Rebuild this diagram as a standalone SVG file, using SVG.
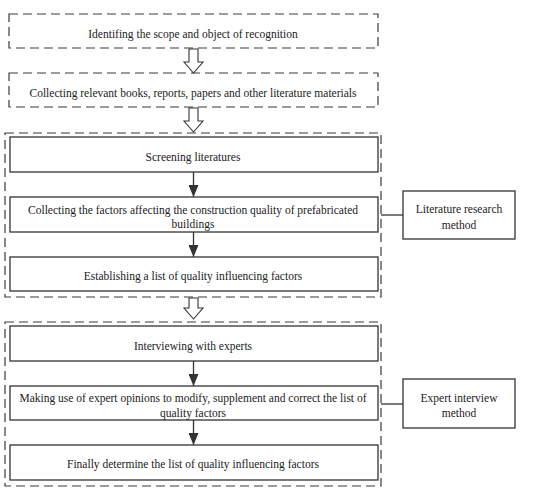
<svg xmlns="http://www.w3.org/2000/svg" width="550" height="491" viewBox="0 0 550 491" font-family="'Liberation Serif','Times New Roman',serif">
<defs>
<style>
.dash{fill:none;stroke:#3a3a3a;stroke-width:1.2;stroke-dasharray:9 5}
.box{fill:#fff;stroke:#333;stroke-width:1.3}
.hollow{fill:#fff;stroke:#333;stroke-width:1.1}
.line{fill:none;stroke:#333;stroke-width:1.3}
text{font-family:"Liberation Serif","Times New Roman",serif;font-size:11.5px;fill:#222;text-anchor:middle}
</style>
<marker id="ah" markerWidth="12" markerHeight="10" refX="12" refY="5" orient="auto" markerUnits="userSpaceOnUse" viewBox="0 0 12 10">
<path d="M0,0 L12,5 L0,10 Z" fill="#333"/>
</marker>
</defs>
<rect width="550" height="491" fill="#fff"/>
<g id="n1"><rect class="dash" x="9" y="14" width="369" height="34"/><text x="193" y="38">Identifing the scope and object of recognition</text></g>
<g id="n2"><rect class="dash" x="9" y="73" width="369" height="34"/><text x="193" y="97">Collecting relevant books, reports, papers and other literature materials</text></g>
<g id="g1"><rect class="dash" x="5" y="133" width="376" height="164"/></g>
<g id="n3"><rect class="box" x="10" y="137" width="368" height="35"/><text x="193" y="161">Screening literatures</text></g>
<g id="n4"><rect class="box" x="10" y="197" width="368" height="35"/><text x="193" y="214">Collecting the factors affecting the construction quality of prefabricated</text><text x="193" y="228">buildings</text></g>
<g id="n5"><rect class="box" x="10" y="257" width="368" height="34"/><text x="193" y="280">Establishing a list of quality  influencing factors</text></g>
<g id="n6"><rect class="box" x="403" y="191" width="112" height="48"/><text x="459" y="213">Literature research</text><text x="459" y="229">method</text></g>
<g id="g2"><rect class="dash" x="5" y="322" width="376" height="164"/></g>
<g id="n7"><rect class="box" x="10" y="326" width="368" height="35"/><text x="193" y="350">Interviewing with experts</text></g>
<g id="n8"><rect class="box" x="10" y="386" width="368" height="34"/><text x="193" y="402">Making use of expert opinions to modify, supplement and correct the list of</text><text x="193" y="417">quality  factors</text></g>
<g id="n9"><rect class="box" x="10" y="445" width="368" height="35"/><text x="193" y="468">Finally determine the list of quality  influencing factors</text></g>
<g id="n10"><rect class="box" x="403" y="379" width="112" height="49"/><text x="459" y="402">Expert interview</text><text x="459" y="417">method</text></g>
<g id="connectors">
<polygon class="hollow" points="189,49 198,49 198,62 203,62 193.5,73 184,62 189,62"/>
<polygon class="hollow" points="189,108 198,108 198,121 203,121 193.5,132 184,121 189,121"/>
<polygon class="hollow" points="189,298 198,298 198,308 203,308 193.5,319 184,308 189,308"/>
<line class="line" x1="193.5" y1="172" x2="193.5" y2="197" marker-end="url(#ah)"/>
<line class="line" x1="193.5" y1="232" x2="193.5" y2="257" marker-end="url(#ah)"/>
<line class="line" x1="193.5" y1="361" x2="193.5" y2="386" marker-end="url(#ah)"/>
<line class="line" x1="193.5" y1="420" x2="193.5" y2="445" marker-end="url(#ah)"/>
<line class="line" x1="381" y1="215" x2="403" y2="215"/>
<line class="line" x1="381" y1="404" x2="403" y2="404"/>
</g>
</svg>
